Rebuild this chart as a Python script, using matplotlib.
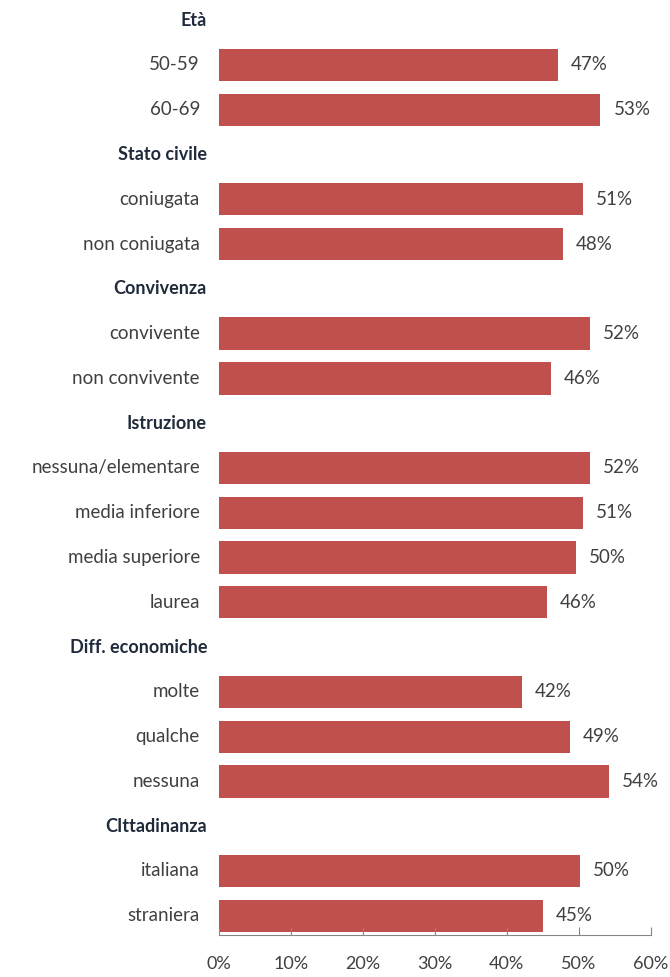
import matplotlib
matplotlib.use("Agg")
import matplotlib.pyplot as plt
import matplotlib.transforms as mtransforms

plt.rcParams['font.family'] = ['Lato', 'DejaVu Sans']

groups = ["Età", "Stato civile", "Convivenza", "Istruzione", "Diff. economiche", "CIttadinanza"]
categories = [
    ["50-59", "60-69"],
    ["coniugata", "non coniugata"],
    ["convivente", "non convivente"],
    ["nessuna/elementare", "media inferiore", "media superiore", "laurea"],
    ["molte", "qualche", "nessuna"],
    ["italiana", "straniera"],
]
values = [
    [47.1, 53.0],
    [50.6, 47.8],
    [51.6, 46.1],
    [51.6, 50.6, 49.6, 45.6],
    [42.1, 48.8, 54.2],
    [50.2, 45.0],
]
xticks = [0, 10, 20, 30, 40, 50, 60]
xticklabels = ["0%", "10%", "20%", "30%", "40%", "50%", "60%"]

bar_color = "#C0504D"
label_color = "#404040"
header_color = "#1F2A3A"

fig = plt.figure(figsize=(6.70, 9.77), dpi=100)
ax = fig.add_axes([219/670, 1 - 935/977, (650.8 - 219)/670, 935/977])

rows = []
for g, cats, vals in zip(groups, categories, values):
    rows.append((g, None))
    for c, v in zip(cats, vals):
        rows.append((c, v))

trans = mtransforms.blended_transform_factory(ax.transAxes, ax.transData)
for i, (lab, v) in enumerate(rows):
    if v is None:
        t = trans + mtransforms.ScaledTranslation(-12/100, 0, fig.dpi_scale_trans)
        ax.text(0, i, lab, transform=t, ha="right", va="center",
                fontsize=13, fontweight="bold", color=header_color)
    else:
        ax.barh(i, v, height=0.72, color=bar_color, edgecolor="none")
        t = trans + mtransforms.ScaledTranslation(-19/100, 0, fig.dpi_scale_trans)
        ax.text(0, i, lab, transform=t, ha="right", va="center",
                fontsize=13.5, color=label_color)
        ax.annotate(f"{v:.0f}%", xy=(v, i), xytext=(13, 0), textcoords="offset pixels",
                    ha="left", va="center", fontsize=13.5, color=label_color)

ax.set_ylim(len(rows) - 1 + 0.43, -0.45)
ax.set_xlim(0, 60)
ax.set_yticks([])
ax.set_xticks(xticks)
ax.set_xticklabels(xticklabels, fontsize=13, color=label_color)
for s in ["top", "right", "left"]:
    ax.spines[s].set_visible(False)
ax.spines["bottom"].set_color("#868686")
ax.tick_params(axis="x", direction="in", length=6, color="#868686", pad=15)

fig.savefig("out.png", dpi=100)
